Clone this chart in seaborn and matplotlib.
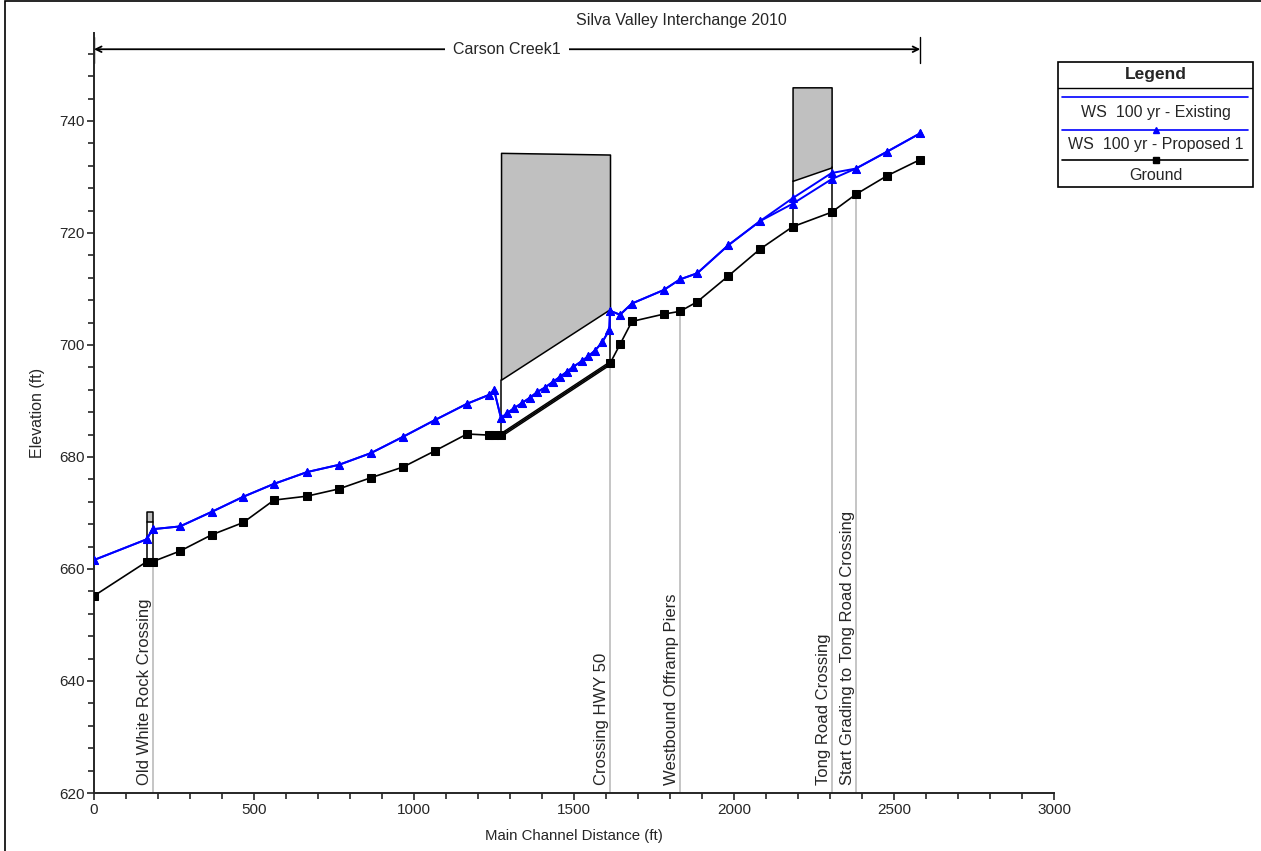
import numpy as np
import pandas as pd
import matplotlib
matplotlib.use("Agg")
import matplotlib.pyplot as plt
from matplotlib.patches import Rectangle
from matplotlib.ticker import MultipleLocator
import seaborn as sns

# ---------------- profile data (ft) ----------------
ground_station = [0, 164.6, 183.0, 268.8, 367.8, 466.6, 562.5, 665.6, 765.6, 865.6,
                  965.6, 1065.6, 1165.6, 1235.0, 1250.0, 1272.0, 1612.5, 1643.8,
                  1681.0, 1780.0, 1831.0, 1885.0, 1982.0, 2081.0, 2183.0, 2305.0,
                  2381.0, 2478.0, 2582.0]
ground_elev = [655.2, 661.3, 661.3, 663.2, 666.1, 668.3, 672.3, 673.0, 674.3, 676.3,
               678.2, 681.1, 684.1, 683.9, 683.9, 683.9, 696.7, 700.1,
               704.2, 705.5, 706.0, 707.7, 712.3, 717.1, 721.1, 723.7,
               726.9, 730.2, 733.1]

ws_station = [0, 164.6, 183.0, 268.8, 367.8, 466.6, 562.5, 665.6, 765.6, 865.6,
              965.6, 1065.6, 1165.6, 1235.0, 1250.0, 1272.0, 1290.0, 1312.5, 1336.6,
              1362.5, 1385.3, 1409.4, 1433.4, 1456.3, 1477.2, 1498.0, 1524.0, 1544.7,
              1565.6, 1588.4, 1610.3, 1612.5, 1643.8, 1681.0, 1780.0, 1831.0, 1885.0,
              1982.0, 2081.0, 2183.0, 2305.0, 2381.0, 2478.0, 2582.0]
ws_existing = [661.6, 665.3, 667.1, 667.6, 670.2, 672.9, 675.2, 677.3, 678.6, 680.7,
               683.6, 686.6, 689.5, 691.1, 692.0, 686.9, 687.8, 688.7, 689.6,
               690.6, 691.6, 692.4, 693.4, 694.3, 695.2, 696.1, 697.1, 698.0,
               699.0, 700.5, 702.7, 706.1, 705.4, 707.4, 709.8, 711.7, 712.8,
               717.8, 722.1, 725.2, 729.6, 731.5, 734.5, 737.8]
ws_proposed = [661.6, 665.3, 667.1, 667.6, 670.2, 672.9, 675.2, 677.3, 678.6, 680.7,
               683.6, 686.6, 689.5, 691.1, 692.0, 686.9, 687.8, 688.7, 689.6,
               690.6, 691.6, 692.4, 693.4, 694.3, 695.2, 696.1, 697.1, 698.0,
               699.0, 700.5, 702.7, 706.1, 705.4, 707.4, 709.8, 711.7, 712.8,
               717.8, 722.1, 726.2, 730.7, 731.5, 734.5, 737.8]

# bridge decks / culvert: station, high chord, low chord
owr_station = [164.6, 183.0]
owr_high = [670.1, 670.1]
owr_low = [668.3, 668.3]

hwy50_station = [1272.0, 1612.5]
hwy50_high = [734.3, 734.0]
hwy50_low = [693.8, 706.4]

tong_station = [2183.0, 2305.0]
tong_high = [746.0, 746.0]
tong_low = [729.3, 731.7]

# labelled cross sections
section_names = ["Old White Rock Crossing", "Crossing HWY 50", "Westbound Offramp Piers",
                 "Tong Road Crossing", "Start Grading to Tong Road Crossing"]
section_station = [183.0, 1612.5, 1831.0, 2305.0, 2381.0]

reach_name = "Carson Creek1"
reach_start, reach_end = 0.0, 2582.0

x_ticks = [0, 500, 1000, 1500, 2000, 2500, 3000]
y_ticks = [620, 640, 660, 680, 700, 720, 740]

# ---------------- styling ----------------
sns.set_style("ticks")
plt.rcParams["font.family"] = ["Liberation Sans", "DejaVu Sans"]
FS = 11

fig = plt.figure(figsize=(12.61, 8.51), dpi=100)
ax = fig.add_axes([94 / 1261, 1 - 793 / 851, 960 / 1261, (793 - 33) / 851])

BLUE = "#0000ff"
GRAY = "#c0c0c0"

# labelled section lines
label_top = np.interp(section_station, ground_station, ground_elev)
for name, st, top in zip(section_names, section_station, label_top):
    ax.plot([st, st], [620, top], color=GRAY, lw=1.3, zorder=1)
    ax.annotate(name, xy=(st, 620), xytext=(-0.5, 6), textcoords="offset points",
                rotation=90, ha="right", va="bottom", fontsize=12, zorder=2)

# structures
def draw_deck(st, high, low):
    ax.fill_between(st, low, high, facecolor=GRAY, edgecolor="black", lw=1.1, zorder=3)
    for s, lo in zip(st, low):
        g = np.interp(s, ground_station, ground_elev)
        ax.plot([s, s], [g, lo], color="black", lw=1.1, zorder=3)

draw_deck(owr_station, owr_high, owr_low)
draw_deck(hwy50_station, hwy50_high, hwy50_low)
draw_deck(tong_station, tong_high, tong_low)

# culvert invert (double line)
inv_y = np.interp(hwy50_station, ground_station, ground_elev)
ax.plot(hwy50_station, inv_y, color="black", lw=3.0, zorder=4, solid_capstyle="butt")
ax.plot(hwy50_station, inv_y, color="#a8a8a8", lw=1.0, zorder=4, solid_capstyle="butt")

# profiles
df_g = pd.DataFrame({"station": ground_station, "elev": ground_elev})
df_e = pd.DataFrame({"station": ws_station, "elev": ws_existing})
df_p = pd.DataFrame({"station": ws_station, "elev": ws_proposed})

sns.lineplot(data=df_g, x="station", y="elev", sort=False, estimator=None, ax=ax,
             color="black", lw=1.2, marker="s", markersize=5.5, markeredgecolor="black",
             markerfacecolor="black", zorder=5)
sns.lineplot(data=df_e, x="station", y="elev", sort=False, estimator=None, ax=ax,
             color=BLUE, lw=1.4, marker="^", markersize=6, markeredgecolor=BLUE,
             markerfacecolor=BLUE, zorder=6)
sns.lineplot(data=df_p, x="station", y="elev", sort=False, estimator=None, ax=ax,
             color=BLUE, lw=1.4, marker="^", markersize=6, markeredgecolor=BLUE,
             markerfacecolor=BLUE, zorder=6)

# axes
ax.set_xlim(0, 3000)
ax.set_ylim(620, 755.7)
ax.set_xticks(x_ticks)
ax.set_yticks(y_ticks)
ax.xaxis.set_minor_locator(MultipleLocator(100))
ax.yaxis.set_minor_locator(MultipleLocator(4))
ax.tick_params(which="major", direction="out", length=5, width=1.2, labelsize=FS, pad=2)
ax.tick_params(which="minor", direction="out", length=4, width=1.2)
for s in ("top", "right"):
    ax.spines[s].set_visible(False)
for s in ("left", "bottom"):
    ax.spines[s].set_linewidth(1.4)
ax.set_xlabel("Main Channel Distance (ft)", fontsize=10.8, labelpad=9)
ax.set_ylabel("Elevation (ft)", fontsize=11.5, labelpad=10)
ax.grid(False)

# reach extent arrow
y_arrow = 752.8
ax.annotate("", xy=(reach_start, y_arrow), xytext=(reach_end, y_arrow),
            arrowprops=dict(arrowstyle="<->", color="black", lw=1.3,
                            mutation_scale=10, shrinkA=0, shrinkB=0),
            annotation_clip=False)
for xr in (reach_start, reach_end):
    ax.plot([xr, xr], [750.4, 754.9], color="black", lw=1.0, clip_on=False)
ax.text((reach_start + reach_end) / 2, y_arrow, reach_name, ha="center", va="center",
        fontsize=11.5, bbox=dict(facecolor="white", edgecolor="none", pad=6))

# title
fig.text(681 / 1261, 1 - 20 / 851, "Silva Valley Interchange 2010", ha="center",
         va="center", fontsize=11.5)

# legend box
lax = fig.add_axes([1058 / 1261, 1 - 187 / 851, 195 / 1261, 125 / 851])
lax.set_xlim(0, 1)
lax.set_ylim(0, 1)
lax.axis("off")
lax.add_patch(Rectangle((0, 0), 1, 1, fill=False, edgecolor="black", lw=1.2,
                        transform=lax.transAxes, clip_on=False))
lax.plot([0, 1], [0.792, 0.792], color="black", lw=1.0)
lax.text(0.5, 0.896, "Legend", ha="center", va="center", fontsize=12.5, fontweight="bold")
legend_rows = [
    ("WS  100 yr - Existing", BLUE, None, 0.72, 0.592),
    ("WS  100 yr - Proposed 1", BLUE, "^", 0.456, 0.336),
    ("Ground", "black", "s", 0.216, 0.096),
]
for label, col, mk, yl, yt in legend_rows:
    lax.plot([0.02, 0.975], [yl, yl], color=col, lw=1.2)
    if mk is not None:
        lax.plot([0.5], [yl], marker=mk, color=col, markersize=5)
    lax.text(0.5, yt, label, ha="center", va="center", fontsize=11.5)

# figure frame
fig.patches.append(Rectangle((5 / 1261, -0.01), 1.1, 1 - 1 / 851 + 0.01, fill=False,
                             edgecolor="black", lw=1.2, transform=fig.transFigure))

fig.savefig("out.png", dpi=100)
